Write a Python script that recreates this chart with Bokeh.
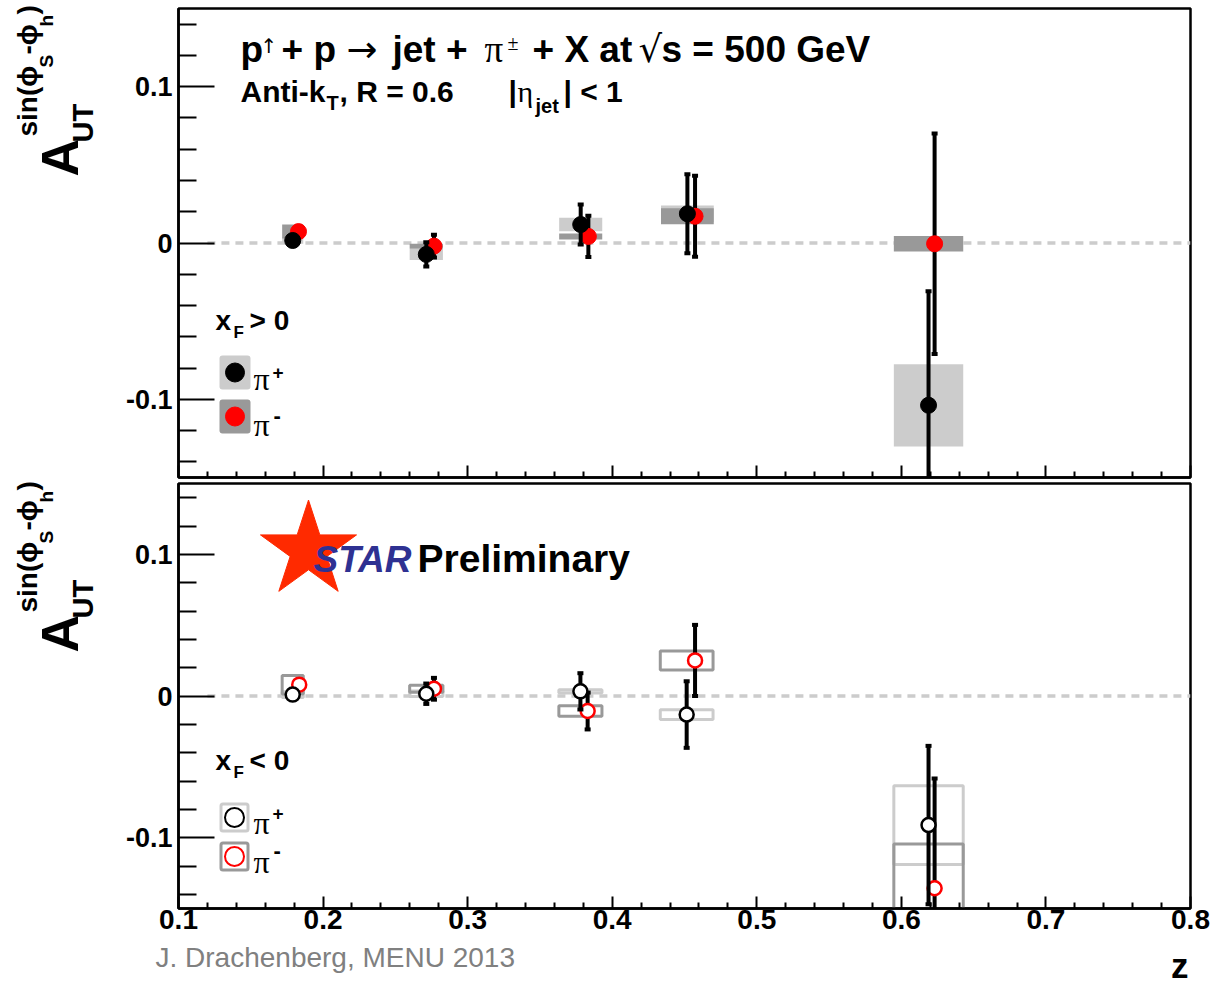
import math
from bokeh.plotting import figure
from bokeh.models import Range1d, FixedTicker, Label
from bokeh.layouts import column, row
from bokeh.embed import file_html
from bokeh.resources import INLINE

# ---------------- data ----------------
z_ticks = [0.1, 0.2, 0.3, 0.4, 0.5, 0.6, 0.7, 0.8]
z_tick_labels = ["0.1", "0.2", "0.3", "0.4", "0.5", "0.6", "0.7", "0.8"]
z_minor = [0.12, 0.14, 0.16, 0.18, 0.22, 0.24, 0.26, 0.28, 0.32, 0.34, 0.36, 0.38,
           0.42, 0.44, 0.46, 0.48, 0.52, 0.54, 0.56, 0.58, 0.62, 0.64, 0.66, 0.68,
           0.72, 0.74, 0.76, 0.78]
a_ticks = [-0.1, 0.0, 0.1]
a_tick_labels = ["-0.1", "0", "0.1"]
a_minor = [-0.14, -0.12, -0.08, -0.06, -0.04, -0.02, 0.02, 0.04, 0.06, 0.08, 0.12, 0.14]

zero_line_z = [0.12, 0.8]
zero_line_a = [0.0, 0.0]

# full z-width of the systematic boxes
box_width = [0.0146, 0.023, 0.0298, 0.0365, 0.048]

# x_F > 0
pos_pip_z = [0.179, 0.2714, 0.3782, 0.452, 0.6188]
pos_pip_a = [0.0016, -0.0073, 0.0118, 0.0187, -0.1038]
pos_pip_stat = [0.0035, 0.0078, 0.0128, 0.0252, 0.073]
pos_pip_sys = [0.002, 0.0035, 0.0043, 0.0053, 0.0263]
pos_pim_z = [0.1830, 0.2767, 0.3835, 0.4573, 0.6230]
pos_pim_a = [0.0073, -0.0020, 0.0042, 0.0171, -0.0005]
pos_pim_stat = [0.0035, 0.0073, 0.0132, 0.0259, 0.0705]
pos_pim_sys = [0.0045, 0.0016, 0.0019, 0.0051, 0.0050]

# x_F < 0
neg_pip_z = [0.179, 0.2714, 0.378, 0.4515, 0.6188]
neg_pip_a = [0.0010, 0.0016, 0.0033, -0.0131, -0.0911]
neg_pip_stat = [0.0035, 0.0072, 0.0128, 0.0235, 0.0559]
neg_pip_sys = [0.0020, 0.0020, 0.0012, 0.0034, 0.0278]
neg_pim_z = [0.1835, 0.2767, 0.383, 0.4573, 0.623]
neg_pim_a = [0.0080, 0.0051, -0.0106, 0.0251, -0.1357]
neg_pim_stat = [0.0035, 0.0077, 0.013, 0.0251, 0.0775]
neg_pim_sys = [0.0065, 0.0025, 0.0037, 0.0067, 0.0313]

# ---------------- layout constants (page pixels) ----------------
LEFT_W = 110
MAIN_W = 1211 - LEFT_W
FRAME_L, FRAME_R = 178, 1190
TOP_FT, TOP_FB = 8, 477
BOT_FT, BOT_FB = 483, 908
TOP_H = 482
BOT_H = 459
FOOT_H = 44
X0, X1 = 0.1, 0.8
Y0, Y1 = -0.15, 0.15
K = 0.3465  # baseline -> middle offset (em)

LIGHT = "#cccccc"
DARK = "#999999"
SANS = "Liberation Sans"
SERIF = "Liberation Serif"


def zpx(px):
    return X0 + (px - FRAME_L) * (X1 - X0) / (FRAME_R - FRAME_L)


def apx(py, ft, fb):
    return Y1 - (py - ft) * (Y1 - Y0) / (fb - ft)


def blank_fig(width, height):
    p = figure(width=width, height=height, x_range=Range1d(0, 1), y_range=Range1d(0, 1),
               output_backend="svg", toolbar_location=None,
               min_border_left=0, min_border_right=0, min_border_top=0, min_border_bottom=0)
    p.axis.visible = False
    p.grid.visible = False
    p.outline_line_color = None
    p.background_fill_color = "white"
    p.border_fill_color = "white"
    return p


def make_fig(height, mb_top, mb_bottom):
    p = figure(width=MAIN_W, height=height, x_range=Range1d(X0, X1), y_range=Range1d(Y0, Y1),
               output_backend="svg", toolbar_location=None,
               min_border_left=FRAME_L - LEFT_W, min_border_right=1211 - FRAME_R,
               min_border_top=mb_top, min_border_bottom=mb_bottom)
    p.xgrid.visible = False
    p.ygrid.visible = False
    p.outline_line_color = "black"
    p.outline_line_width = 2.5
    p.background_fill_color = "white"
    p.border_fill_color = "white"
    xa = p.xaxis[0]
    xa.ticker = FixedTicker(ticks=z_ticks, minor_ticks=z_minor)
    xa.major_tick_in = 12
    xa.major_tick_out = 0
    xa.minor_tick_in = 6
    xa.minor_tick_out = 0
    xa.major_tick_line_width = 2
    xa.minor_tick_line_width = 2
    xa.axis_line_width = 2.5
    ya = p.yaxis[0]
    ya.ticker = FixedTicker(ticks=a_ticks, minor_ticks=a_minor)
    ya.major_tick_in = 36
    ya.major_tick_out = 0
    ya.minor_tick_in = 18
    ya.minor_tick_out = 0
    ya.major_tick_line_width = 2
    ya.minor_tick_line_width = 2
    ya.axis_line_width = 2.5
    ya.major_label_overrides = dict(zip(a_ticks, a_tick_labels))
    ya.major_label_text_font = SANS
    ya.major_label_text_font_style = "bold"
    ya.major_label_text_font_size = "27px"
    ya.major_label_text_color = "black"
    ya.major_label_standoff = 6
    return p


def T(p, fl, fb, text, px, pbase, size, style="bold", font=SANS, color="black",
      align="left", rotated=False):
    """Place a text by its page baseline position; fl/fb = page x of frame left / page y of frame bottom."""
    if rotated:
        cx = pbase - K * size
        sx, sy = cx - fl, fb - px
        ang = math.pi / 2
    else:
        cy = pbase - K * size
        sx, sy = px - fl, fb - cy
        ang = 0.0
    p.add_layout(Label(x=sx, y=sy, x_units="screen", y_units="screen",
                       text=text, text_font=font, text_font_size=f"{size}px",
                       text_font_style=style, text_color=color, text_align=align,
                       text_baseline="middle", angle=ang))


def draw_data(p, pip_z, pip_a, pip_stat, pip_sys, pim_a, pim_z, pim_stat, pim_sys, filled):
    p.line(zero_line_z, zero_line_a, line_color=LIGHT, line_width=3.5, line_dash="8 6")
    if filled:
        p.rect(x=pip_z, y=pip_a, width=box_width, height=[2 * s for s in pip_sys],
               fill_color=LIGHT, line_color=None)
        p.rect(x=pip_z, y=pim_a, width=box_width, height=[2 * s for s in pim_sys],
               fill_color=DARK, line_color=None)
    else:
        p.rect(x=pip_z, y=pip_a, width=box_width, height=[2 * s for s in pip_sys],
               fill_color=None, line_color=LIGHT, line_width=3)
        p.rect(x=pip_z, y=pim_a, width=box_width, height=[2 * s for s in pim_sys],
               fill_color=None, line_color=DARK, line_width=3)
    for zs, as_, st, col in [(pim_z, pim_a, pim_stat, "#ff0000"), (pip_z, pip_a, pip_stat, "black")]:
        lo = [a - s for a, s in zip(as_, st)]
        hi = [a + s for a, s in zip(as_, st)]
        p.segment(x0=zs, y0=lo, x1=zs, y1=hi, line_color="black", line_width=4)
        p.scatter(x=zs + zs, y=lo + hi, marker="dash", size=6, line_color="black", line_width=4)
        if filled:
            p.scatter(x=zs, y=as_, size=16, fill_color=col, line_color=col)
        else:
            p.scatter(x=zs, y=as_, size=14, fill_color="white", line_color=col, line_width=2.5)


# ---------------- left strip with the y titles ----------------
LEFT_H = TOP_H + BOT_H
pl = blank_fig(LEFT_W, LEFT_H)


def ytitle(dy):
    # (text, start y, baseline x, size) -- rotated, reading bottom to top
    T(pl, 0, LEFT_H, "A", 176 + dy, 78, 52, rotated=True)
    T(pl, 0, LEFT_H, "UT", 142 + dy, 93, 29, rotated=True)
    T(pl, 0, LEFT_H, "sin(\u03d5", 136 + dy, 37, 28, rotated=True)
    T(pl, 0, LEFT_H, "S", 67 + dy, 53, 19, rotated=True)
    T(pl, 0, LEFT_H, "-\u03d5", 54 + dy, 37, 28, rotated=True)
    T(pl, 0, LEFT_H, "h", 26 + dy, 53, 19, rotated=True)
    T(pl, 0, LEFT_H, ")", 14 + dy, 37, 28, rotated=True)


ytitle(0)
ytitle(476)

# ---------------- top panel ----------------
p1 = make_fig(TOP_H, TOP_FT, TOP_H - TOP_FB)
p1.xaxis[0].major_label_text_font_size = "0px"
p1.xaxis[0].major_label_standoff = 0
p1.xaxis[0].major_label_overrides = {t: "" for t in z_ticks}
draw_data(p1, pos_pip_z, pos_pip_a, pos_pip_stat, pos_pip_sys,
          pos_pim_a, pos_pim_z, pos_pim_stat, pos_pim_sys, True)

# legend (x_F > 0)
lx = [zpx(234.5), zpx(234.5)]
ly = [apx(372, TOP_FT, TOP_FB), apx(416, TOP_FT, TOP_FB)]
p1.rect(x=lx, y=ly, width=31, height=34, width_units="screen", height_units="screen",
        fill_color=[LIGHT, DARK], line_color=None, border_radius=3)
p1.scatter(x=lx, y=ly, size=19, fill_color=["black", "#ff0000"], line_color=["black", "#ff0000"])


def t1(text, px, pb, size, **kw):
    T(p1, FRAME_L, TOP_FB, text, px, pb, size, **kw)


def t2(text, px, pb, size, **kw):
    T(p2, FRAME_L, BOT_FB - TOP_H, text, px, pb - TOP_H, size, **kw)


t1("\u03c0", 253, 390, 32, style="normal", font=SERIF)
t1("+", 272, 379, 19)
t1("\u03c0", 253, 436, 32, style="normal", font=SERIF)
t1("-", 273, 423, 22)

t1("x", 215, 330, 28)
t1("F", 233, 338, 17)
t1("> 0", 249, 330, 28)

# title
t1("p", 240, 62, 37)
t1("\u2191", 260, 52, 20, style="normal", font="DejaVu Sans")
t1("+ p", 281, 62, 37)
t1("\u2192", 346, 62, 37, style="normal", font="DejaVu Sans")
t1("jet +", 392, 62, 37)
t1("\u03c0", 484, 62, 37, style="normal", font=SERIF)
t1("\u00b1", 507, 49, 20, style="normal", font=SERIF)
t1("+ X at", 532, 62, 37)
t1("\u221a", 638, 62, 37, style="normal", font="DejaVu Sans")
t1("s = 500 GeV", 661, 62, 37)

t1("Anti-k", 240, 101, 30)
t1("T", 326, 109, 20)
t1(", R = 0.6", 339, 101, 30)
t1("|", 508, 101, 30)
t1("\u03b7", 517, 101, 30, style="normal", font=SERIF)
t1("jet", 535, 112, 20)
t1("| < 1", 563, 101, 30)

# ---------------- bottom panel ----------------
p2 = make_fig(BOT_H, BOT_FT - TOP_H, BOT_H - (BOT_FB - TOP_H))
xa = p2.xaxis[0]
xa.major_label_overrides = dict(zip(z_ticks, z_tick_labels))
xa.major_label_text_font = SANS
xa.major_label_text_font_style = "bold"
xa.major_label_text_font_size = "28px"
xa.major_label_text_color = "black"
xa.major_label_standoff = 1

# STAR logo
p2.scatter(x=[zpx(308)], y=[apx(550, BOT_FT, BOT_FB)], marker="star", size=101,
           fill_color="#ff2a00", line_color="#ff2a00")
t2("STAR", 313, 572, 37, style="bold italic", color="#2e3192")
t2("Preliminary", 417, 572, 39)

draw_data(p2, neg_pip_z, neg_pip_a, neg_pip_stat, neg_pip_sys,
          neg_pim_a, neg_pim_z, neg_pim_stat, neg_pim_sys, False)

# legend (x_F < 0)
lx2 = [zpx(234), zpx(234)]
ly2 = [apx(817, BOT_FT, BOT_FB), apx(856, BOT_FT, BOT_FB)]
p2.rect(x=lx2, y=ly2, width=27, height=27, width_units="screen", height_units="screen",
        fill_color=None, line_color=[LIGHT, DARK], line_width=3, border_radius=2)
p2.scatter(x=lx2, y=ly2, size=19, fill_color="white", line_color=["black", "#ff0000"], line_width=2)
t2("\u03c0", 253, 834, 32, style="normal", font=SERIF)
t2("+", 272, 820, 19)
t2("\u03c0", 253, 873, 32, style="normal", font=SERIF)
t2("-", 273, 858, 22)

t2("x", 215, 770, 28)
t2("F", 233, 778, 17)
t2("< 0", 249, 770, 28)

# ---------------- footer strip ----------------
FOOT_TOP = TOP_H + BOT_H
pf = blank_fig(1211, FOOT_H)
T(pf, 0, FOOT_TOP + FOOT_H, "J. Drachenberg, MENU 2013", 155, 967, 28, style="normal",
  font=SANS, color="#808080")
T(pf, 0, FOOT_TOP + FOOT_H, "z", 1188, 977, 35, align="right")

layout = column(row(pl, column(p1, p2, spacing=0), spacing=0), pf, spacing=0)
open("out.html", "w").write(file_html(layout, INLINE))
